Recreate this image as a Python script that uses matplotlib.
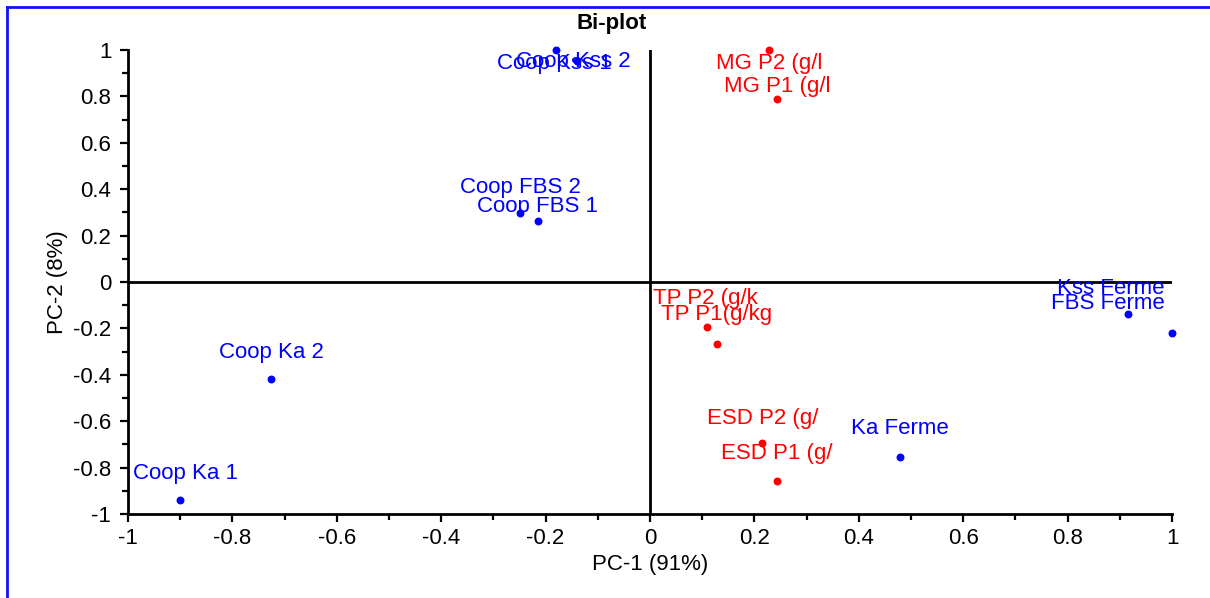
import matplotlib
matplotlib.use("Agg")
import matplotlib.pyplot as plt
from matplotlib.lines import Line2D
from matplotlib.ticker import MultipleLocator

plt.rcParams['font.family'] = ['Liberation Sans', 'DejaVu Sans']
plt.rcParams['axes.unicode_minus'] = False

# observations (blue)
obs_names = ["Coop Ka 1", "Coop Ka 2", "Coop FBS 2", "Coop FBS 1", "Coop Kss 1",
             "Coop Kss 2", "Ka Ferme", "FBS Ferme", "Kss Ferme"]
obs_pc1 = [-0.90, -0.726, -0.249, -0.215, -0.180, -0.140, 0.479, 0.916, 1.0]
obs_pc2 = [-0.94, -0.418, 0.296, 0.263, 1.0, 0.953, -0.754, -0.138, -0.220]

# variables (red)
var_names = ["MG P2 (g/l", "MG P1 (g/l", "TP P2 (g/k", "TP P1(g/kg", "ESD P2 (g/", "ESD P1 (g/"]
var_pc1 = [0.228, 0.243, 0.109, 0.128, 0.215, 0.243]
var_pc2 = [1.0, 0.789, -0.194, -0.267, -0.694, -0.858]

ticks = [-1, -0.8, -0.6, -0.4, -0.2, 0, 0.2, 0.4, 0.6, 0.8, 1]
tick_labels = ["-1", "-0.8", "-0.6", "-0.4", "-0.2", "0", "0.2", "0.4", "0.6", "0.8", "1"]

# label offsets in pixels (dx, dy), as placed in the original to avoid overlaps
obs_offsets = [(5, 27), (0, 26), (0, 26), (0, 14), (-2, -14), (-4, -1), (0, 28), (-20, 11), (-61, 45)]
var_offsets = [(0, -14), (0, 12), (-2, 29), (0, 29), (0, 25), (0, 28)]

fig = plt.figure(figsize=(12.1, 5.98), dpi=100)
ax = fig.add_axes([128 / 1210, 1 - 514 / 598, (1172 - 128) / 1210, (514 - 50) / 598])

ax.axhline(0, color="black", lw=2, zorder=1)
ax.axvline(0, color="black", lw=2, zorder=1)

ax.scatter(obs_pc1, obs_pc2, s=22, color="#0000ff", zorder=3, clip_on=False)
ax.scatter(var_pc1, var_pc2, s=22, color="#ff0000", zorder=3, clip_on=False)

for name, x, y, off in zip(obs_names, obs_pc1, obs_pc2, obs_offsets):
    ax.annotate(name, (x, y), xytext=off, textcoords="offset pixels",
                ha="center", va="center", fontsize=16, color="#0000ff", annotation_clip=False)
for name, x, y, off in zip(var_names, var_pc1, var_pc2, var_offsets):
    ax.annotate(name, (x, y), xytext=off, textcoords="offset pixels",
                ha="center", va="center", fontsize=16, color="#ff0000", annotation_clip=False)

ax.set_xlim(-1, 1)
ax.set_ylim(-1, 1)
ax.set_xticks(ticks)
ax.set_xticklabels(tick_labels)
ax.set_yticks(ticks)
ax.set_yticklabels(tick_labels)
ax.xaxis.set_minor_locator(MultipleLocator(0.1))
ax.yaxis.set_minor_locator(MultipleLocator(0.1))
ax.tick_params(which="major", length=6, width=1.6, labelsize=16)
ax.tick_params(which="minor", length=4, width=1.6)
ax.tick_params(axis="x", pad=4)
ax.tick_params(axis="y", pad=6)

for side in ["top", "right"]:
    ax.spines[side].set_visible(False)
for side in ["left", "bottom"]:
    ax.spines[side].set_linewidth(2)

ax.set_xlabel("PC-1 (91%)", fontsize=16, labelpad=4)
ax.set_ylabel("PC-2 (8%)", fontsize=16, labelpad=4)
fig.text(612 / 1210, 1 - 23 / 598, "Bi-plot", fontsize=16, fontweight="bold", ha="center", va="center")

# blue frame (left and top edges visible)
fig.add_artist(Line2D([7 / 1210, 7 / 1210], [0, 1 - 7 / 598], color="#1010ff", lw=2, transform=fig.transFigure))
fig.add_artist(Line2D([7 / 1210, 1], [1 - 7 / 598, 1 - 7 / 598], color="#1010ff", lw=2, transform=fig.transFigure))

fig.savefig("out.png", dpi=100)
